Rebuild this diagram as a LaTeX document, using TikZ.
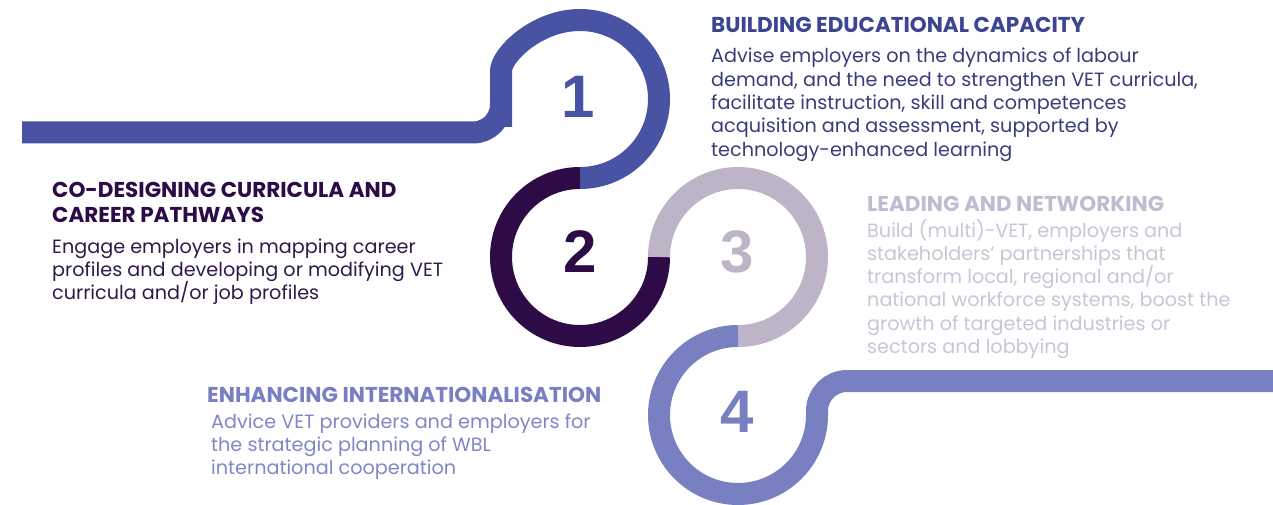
\documentclass[tikz,border=0pt]{standalone}
\usepackage{fontspec}
\setmainfont{Poppins}
\newfontfamily\numfont{Liberation Sans}
\usepackage{tikz}
\usetikzlibrary{positioning}

\definecolor{ringA}{HTML}{4853A3}
\definecolor{ringB}{HTML}{2C0B47}
\definecolor{ringC}{HTML}{BDB4C8}
\definecolor{ringD}{HTML}{7880C2}
\definecolor{headA}{HTML}{3B4592}
\definecolor{bodyA}{HTML}{383D7A}
\definecolor{bodyB}{HTML}{2F1A4B}
\definecolor{headC}{HTML}{C2BAD0}
\definecolor{bodyC}{HTML}{CAC4D5}
\definecolor{bodyD}{HTML}{7F87C6}

\begin{document}
\begin{tikzpicture}[
  x=1pt, y=1pt,
  track/.style={line width=22pt},
  num/.style={font=\numfont\bfseries\fontsize{60}{60}\selectfont, inner sep=0pt},
  head/.style={anchor=base west, inner sep=0pt, align=left, font=\bfseries\fontsize{21.5}{25}\selectfont},
  body/.style={anchor=base west, inner sep=0pt, align=left, font=\fontsize{19.2}{23.3}\selectfont}
]
\useasboundingbox (0,0) rectangle (1273,504);

\coordinate (c1) at (580,405);
\coordinate (c2) at (580,247);
\coordinate (c3) at (738,247);
\coordinate (c4) at (738,89);

\draw[track, ringA] (22,371.5) [rounded corners=28pt] -- (501,371.5) -- (501,405) [sharp corners]
  arc[start angle=180, end angle=-90, radius=79pt];
\draw[track, ringB] (580,326) arc[start angle=90, end angle=360, radius=79pt];
\draw[track, ringC] (659,247) arc[start angle=180, end angle=-90, radius=79pt];
\draw[track, ringD] (738,168) arc[start angle=90, end angle=360, radius=79pt]
  [rounded corners=30pt] -- (817,123) -- (1273,123);

\node[num, text=ringA] (one)   at (578,407.5) {1};
\node[num, text=ringB] (two)   at (580,252.5) {2};
\node[num, text=ringC] (three) at (737,252.5) {3};
\node[num, text=ringD] (four)  at (737,92.5)  {4};

% base anchor sits on the last line of each block
\node[head, text=headA] (capacity) at (711,471) {BUILDING EDUCATIONAL CAPACITY};
\node[body, text=bodyA] (capacitytext) at (711,347.8) {Advise employers on the dynamics of labour\\demand, and the need to strengthen VET curricula,\\facilitate instruction, skill and competences\\acquisition and assessment, supported by\\technology-enhanced learning};

\node[head, text=ringB] (codesign) at (52,281) {CO-DESIGNING CURRICULA AND\\CAREER PATHWAYS};
\node[body, text=bodyB] (codesigntext) at (52,204.4) {Engage employers in mapping career\\profiles and developing or modifying VET\\curricula and/or job profiles};

\node[head, text=headC] (leading) at (867,292) {LEADING AND NETWORKING};
\node[body, text=bodyC] (leadingtext) at (867,150.5) {Build (multi)-VET, employers and\\stakeholders’ partnerships that\\transform local, regional and/or\\national workforce systems, boost the\\growth of targeted industries or\\sectors and lobbying};

\node[head, text=ringD] (intl) at (207,102) {ENHANCING INTERNATIONALISATION};
\node[body, text=bodyD] (intltext) at (211,29.4) {Advice VET providers and employers for\\the strategic planning of WBL\\international cooperation};
\end{tikzpicture}
\end{document}
